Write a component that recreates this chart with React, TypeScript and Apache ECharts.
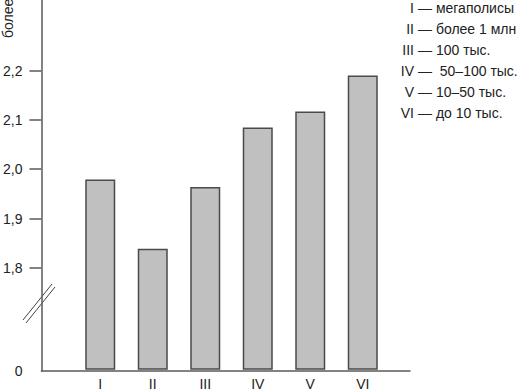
import React, { useEffect, useRef } from "react";
import * as echarts from "echarts";

const categories = ["I", "II", "III", "IV", "V", "VI"];
const values = [1.977, 1.836, 1.962, 2.083, 2.116, 2.189];
const yTicks = [1.8, 1.9, 2.0, 2.1, 2.2];
const yBottom = 1.591; // shown as "0" (broken axis)
const yTop = 2.343;
const yAxisTitle = "более";
const legendDescriptions = [
  "мегаполисы",
  "более 1 млн",
  "100 тыс.",
  " 50–100 тыс.",
  "10–50 тыс.",
  "до 10 тыс.",
];

const FONT = "Liberation Sans, Arial, sans-serif";

export default function App() {
  const ref = useRef<HTMLDivElement>(null);
  useEffect(() => {
    if (!ref.current) return;
    const chart = echarts.init(ref.current, null, { renderer: "svg" });
    const axisColor = "#5a5a5a";
    const rowY = (i: number) => 8 + 21 * i;
    chart.setOption({
      animation: false,
      backgroundColor: "#fff",
      grid: [
        { left: 39, right: 108, top: 0, bottom: 20 },
        { left: 74, right: 129, top: 0, bottom: 20 },
      ],
      xAxis: [
        {
          type: "value",
          gridIndex: 0,
          min: 0,
          max: 1,
          axisLine: { show: true, onZero: false, lineStyle: { color: axisColor, width: 1.5 } },
          axisTick: { show: false },
          axisLabel: { show: false },
          splitLine: { show: false },
        },
        {
          type: "category",
          gridIndex: 1,
          data: categories,
          axisLine: { show: false },
          axisTick: { show: false },
          axisLabel: { color: "#222", fontSize: 14, fontFamily: FONT, margin: 8 },
        },
      ],
      yAxis: [
        {
          type: "value",
          gridIndex: 0,
          min: yBottom,
          max: yTop,
          axisLine: { show: true, lineStyle: { color: axisColor, width: 1.5 } },
          axisTick: {
            show: true,
            length: 12,
            customValues: yTicks,
            lineStyle: { color: axisColor, width: 1.5 },
          },
          axisLabel: {
            customValues: [yBottom, ...yTicks],
            color: "#222",
            fontSize: 14,
            fontFamily: FONT,
            margin: 19,
            formatter: (v: number) =>
              Math.abs(v - yBottom) < 1e-6 ? "0" : v.toFixed(1).replace(".", ","),
          },
          splitLine: { show: false },
        },
        {
          type: "value",
          gridIndex: 1,
          min: yBottom,
          max: yTop,
          show: false,
          splitLine: { show: false },
        },
      ],
      series: [
        {
          type: "bar",
          xAxisIndex: 1,
          yAxisIndex: 1,
          data: values,
          barWidth: 30,
          itemStyle: { color: "#c0c0c0", borderColor: "#4a4a4a", borderWidth: 1.5 },
        },
      ],
      graphic: [
        {
          type: "text",
          x: 8,
          y: 38,
          rotation: Math.PI / 2,
          style: {
            text: yAxisTitle,
            fill: "#222",
            font: `14px ${FONT}`,
            align: "left",
            verticalAlign: "middle",
          },
        },
        {
          type: "line",
          shape: { x1: 23, y1: 320, x2: 52, y2: 284 },
          style: { stroke: "#444", lineWidth: 1 },
        },
        {
          type: "line",
          shape: { x1: 26, y1: 323, x2: 55, y2: 287 },
          style: { stroke: "#444", lineWidth: 1 },
        },
        ...categories.map((c, i) => ({
          type: "text",
          x: 414,
          y: rowY(i),
          style: {
            text: c,
            fill: "#222",
            font: `14px ${FONT}`,
            align: "right",
            verticalAlign: "middle",
          },
        })),
        ...legendDescriptions.map((t, i) => ({
          type: "text",
          x: 418,
          y: rowY(i),
          style: {
            text: "— " + t,
            fill: "#222",
            font: `14px ${FONT}`,
            align: "left",
            verticalAlign: "middle",
          },
        })),
      ],
    });
    return () => chart.dispose();
  }, []);
  return (
    <div
      ref={ref}
      style={{ position: "absolute", left: 0, top: 0, width: 518, height: 391 }}
    />
  );
}
